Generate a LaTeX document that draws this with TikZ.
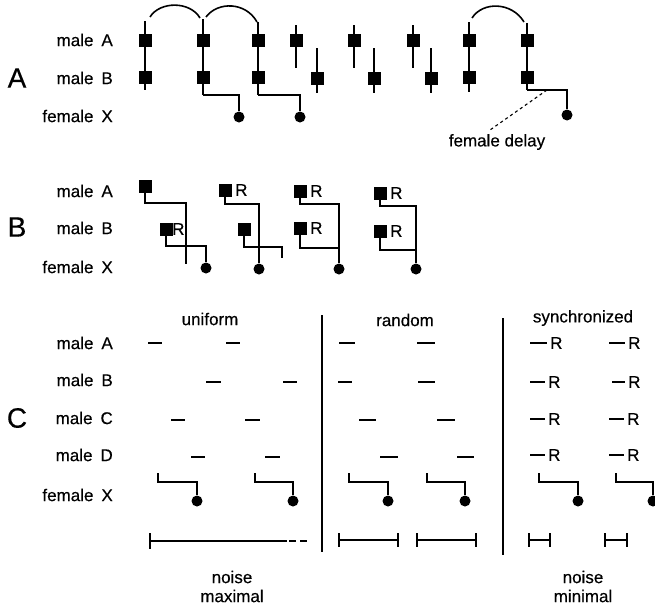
\documentclass[tikz,border=0pt]{standalone}
\usepackage{fontspec}
\setmainfont[FakeBold=0.4]{Liberation Sans}
\begin{document}
\begin{tikzpicture}[x=1pt,y=-1pt,
  lbl/.style={anchor=east,inner sep=0pt,font=\fontsize{17}{17}\selectfont},
  txt/.style={inner sep=0pt,font=\fontsize{17}{17}\selectfont},
  rl/.style={anchor=west,inner sep=0pt,font=\fontsize{17}{17}\selectfont},
  panel/.style={inner sep=0pt,font=\fontsize{28}{28}\selectfont},
  sq/.style={fill=black,draw=none,minimum size=13pt,inner sep=0pt},
  dot/.style={circle,fill=black,draw=none,minimum size=11pt,inner sep=0pt},
  stem/.style={line width=2.6pt},
  wire/.style={line width=1.7pt},
  call/.style={line width=2.5pt},
  sep/.style={line width=1.8pt},
  bar/.style={line width=2.4pt}]
\useasboundingbox (0,0) rectangle (655,608);

% ---------------- panel A ----------------
\node[panel] (pA) at (17,78) {A};
\node[lbl] (aLA) at (113,40) {male\hspace{8pt}A};
\node[lbl] (aLB) at (113,78) {male\hspace{8pt}B};
\node[lbl] (aLX) at (113,116) {female\hspace{8pt}X};

% synchronous pairs
\foreach \n/\x/\t/\b in {1/145/21/90,2/203/19/95,3/258/22/95,7/469/22/92,8/527/23/90} {
  \coordinate (aT\n) at (\x,\t);
  \coordinate (aE\n) at (\x,\b);
  \draw[stem] (aT\n) -- (aE\n);
  \node[sq] (aA\n) at (\x,40) {};
  \node[sq] (aB\n) at (\x,77) {};
}
% alternating pairs
\foreach \n/\xa/\xb in {4/296/317,5/354/374,6/413/431} {
  \coordinate (aTA\n) at (\xa,25);
  \coordinate (aEA\n) at (\xa,68);
  \coordinate (aTB\n) at (\xb,48);
  \coordinate (aEB\n) at (\xb,93);
  \draw[stem] (aTA\n) -- (aEA\n);
  \draw[stem] (aTB\n) -- (aEB\n);
  \node[sq] (aA\n) at (\xa,40) {};
  \node[sq] (aB\n) at (\xb,78) {};
}
% female responses
\node[dot] (aX2) at (239,117) {};
\node[dot] (aX3) at (300,117) {};
\node[dot] (aX8) at (567,115) {};
\draw[wire] (aE2) -| (aX2);
\draw[wire] (aE3) -| (aX3);
\draw[wire] (aE8) -| (aX8);

% arcs joining calls
\draw[line width=1.6pt] (150,17) .. controls (160,1) and (190,1) .. (200,18);
\draw[line width=1.6pt] (206,17) .. controls (218,1) and (246,2) .. (257,22);
\draw[line width=1.6pt] (472,18) .. controls (483,1) and (512,2) .. (524,22);

% female delay
\coordinate (aD) at (547,90);
\node[txt] (aDl) at (497,142) {female delay};
\draw[line width=1.1pt,dashed] (aD) -- (490,130);

% ---------------- panel B ----------------
\node[panel] (pB) at (17,227) {B};
\node[lbl] (bLA) at (113,191) {male\hspace{8pt}A};
\node[lbl] (bLB) at (113,228) {male\hspace{8pt}B};
\node[lbl] (bLX) at (113,267) {female\hspace{8pt}X};

% group 1
\node[sq] (bA1) at (145,186) {};
\node[sq] (bB1) at (166,229) {};
\node[rl] (bR1) at (172,229) {R};
\node[dot] (bX1) at (206,268) {};
\coordinate (bE1) at (186,264);
\draw[wire] (bA1.center) -- ++(0,17) -| (bE1);
\draw[wire] (bB1.center) -- ++(0,17) -| (bX1);
% group 2
\node[sq] (bA2) at (225,190) {};
\node[rl] (bRA2) at (235,190) {R};
\node[sq] (bB2) at (244,229) {};
\node[dot] (bX2) at (259,269) {};
\coordinate (bE2) at (282,258);
\draw[wire] (bA2.center) -- ++(0,14) -| (bX2);
\draw[wire] (bB2.center) -- ++(0,18) -| (bE2);
% group 3
\node[sq] (bA3) at (300,191) {};
\node[rl] (bRA3) at (310,191) {R};
\node[sq] (bB3) at (300,228) {};
\node[rl] (bRB3) at (310,228) {R};
\node[dot] (bX3) at (339,269) {};
\draw[wire] (bA3.center) -- ++(0,13) -| (bX3);
\draw[wire] (bB3.center) -- ++(0,20) -| (bX3);
% group 4
\node[sq] (bA4) at (380,193) {};
\node[rl] (bRA4) at (390,193) {R};
\node[sq] (bB4) at (380,231) {};
\node[rl] (bRB4) at (390,231) {R};
\node[dot] (bX4) at (416,269) {};
\draw[wire] (bA4.center) -- ++(0,13) -| (bX4);
\draw[wire] (bB4.center) -- ++(0,19) -| (bX4);
\draw[stem] (416,250) -- (bX4);

% ---------------- panel C ----------------
\node[panel] (pC) at (17,418) {C};
\node[lbl] (cLA) at (113,343) {male\hspace{8pt}A};
\node[lbl] (cLB) at (113,380) {male\hspace{8pt}B};
\node[lbl] (cLC) at (113,418) {male\hspace{8pt}C};
\node[lbl] (cLD) at (113,455) {male\hspace{8pt}D};
\node[lbl] (cLX) at (113,495) {female\hspace{8pt}X};

\node[txt] (cU) at (210,319) {uniform};
\node[txt] (cRd) at (405,320) {random};
\node[txt] (cS) at (583,318) {synchronized};

% separators
\draw[sep] (322,315) -- (322,552);
\draw[sep] (503,318) -- (503,555);

% uniform calls
\foreach \a/\b/\y in {148/162/343,226/240/343,206/221/382,283/297/382,
                      171/185/420,245/260/420,191/205/457,265/280/457}
  \draw[call] (\a,\y) -- (\b,\y);
% random calls
\foreach \a/\b/\y in {339/355/343,417/435/343,338/352/382,418/435/382,
                      359/376/420,437/455/420,380/398/457,457/474/457}
  \draw[call] (\a,\y) -- (\b,\y);
% synchronized calls, each followed by R
\foreach \a/\b/\y in {530/547/343,609/625/343,530/545/382,612/625/382,
                      530/545/419,609/624/419,530/545/455,609/624/455} {
  \draw[call] (\a,\y) -- (\b,\y);
  \node[rl] at (\b+3,\y) {R};
}

% female responses
\foreach \n/\s/\x in {1/158/197,2/255/293,3/349/388,4/427/465,5/539/578,6/616/653} {
  \coordinate (cT\n) at (\s,473);
  \node[dot] (cX\n) at (\x,501) {};
  \draw[wire] (cT\n) -- ++(0,9) -| (cX\n);
}

% noise ranges
\draw[bar] (150,533) -- (150,549);
\draw[bar] (150,541) -- (287,541);
\draw[bar,dash pattern=on 7pt off 4pt] (289,541) -- (310,541);
\foreach \a/\b in {339/398,417/476,529/550,605/627} {
  \draw[bar] (\a,540) -- (\b,540);
  \draw[bar] (\a,533) -- (\a,547);
  \draw[bar] (\b,533) -- (\b,547);
}
\node[txt] (cN1) at (232,577) {noise};
\node[txt] (cM1) at (232,596) {maximal};
\node[txt] (cN2) at (583,577) {noise};
\node[txt] (cM2) at (583,596) {minimal};
\end{tikzpicture}
\end{document}
